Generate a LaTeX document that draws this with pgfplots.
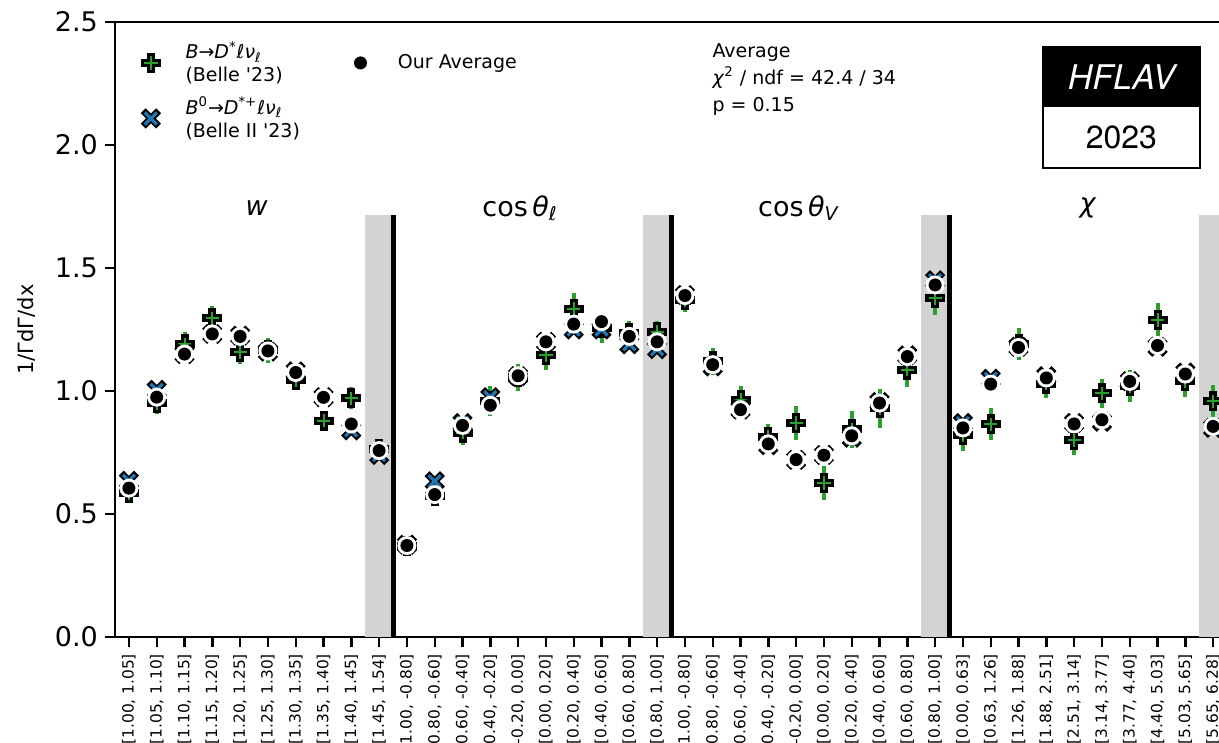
\documentclass[border=0pt]{standalone}
\usepackage{pgfplots}
\pgfplotsset{compat=1.18}
\usepackage{pgfplotstable}
\usepackage{fontspec}
\setmainfont{DejaVu Sans}[ItalicFont={DejaVu Sans Oblique},BoldFont={DejaVu Sans Bold},Ligatures=TeXOff]
\newfontfamily\heros{TeX Gyre Heros}
\definecolor{mplgreen}{HTML}{2CA02C}
\definecolor{mplblue}{HTML}{1F77B4}
\definecolor{bandgray}{HTML}{D3D3D3}

\pgfdeclareplotmark{pcross}{%
  \pgfsetlinewidth{4pt}\pgfsetrectcap\pgfsetstrokecolor{black}%
  \pgfpathmoveto{\pgfqpoint{-3pt}{0pt}}\pgfpathlineto{\pgfqpoint{3pt}{0pt}}%
  \pgfpathmoveto{\pgfqpoint{0pt}{-3pt}}\pgfpathlineto{\pgfqpoint{0pt}{3pt}}%
  \pgfusepathqstroke
  \pgfsetlinewidth{1pt}\pgfsetbuttcap\pgfsetstrokecolor{mplgreen}%
  \pgfpathmoveto{\pgfqpoint{-3.3pt}{0pt}}\pgfpathlineto{\pgfqpoint{3.3pt}{0pt}}%
  \pgfpathmoveto{\pgfqpoint{0pt}{-3.3pt}}\pgfpathlineto{\pgfqpoint{0pt}{3.3pt}}%
  \pgfusepathqstroke}
\pgfdeclareplotmark{xcross}{%
  \pgfsetlinewidth{3.5pt}\pgfsetrectcap\pgfsetstrokecolor{black}%
  \pgfpathmoveto{\pgfqpoint{-2.6pt}{-2.6pt}}\pgfpathlineto{\pgfqpoint{2.6pt}{2.6pt}}%
  \pgfpathmoveto{\pgfqpoint{-2.6pt}{2.6pt}}\pgfpathlineto{\pgfqpoint{2.6pt}{-2.6pt}}%
  \pgfusepathqstroke
  \pgfsetlinewidth{1.6pt}\pgfsetbuttcap\pgfsetstrokecolor{mplblue}%
  \pgfpathmoveto{\pgfqpoint{-3pt}{-3pt}}\pgfpathlineto{\pgfqpoint{3pt}{3pt}}%
  \pgfpathmoveto{\pgfqpoint{-3pt}{3pt}}\pgfpathlineto{\pgfqpoint{3pt}{-3pt}}%
  \pgfusepathqstroke}
\pgfdeclareplotmark{avgdot}{%
  \pgfpathcircle{\pgfpointorigin}{4.75pt}\pgfsetfillcolor{white}\pgfusepathqfill
  \pgfpathcircle{\pgfpointorigin}{3.25pt}\pgfsetfillcolor{black}\pgfusepathqfill}

\pgfplotstableread{
x belle be b2 avg ae
0 0.585 0.040 0.635 0.605 0.025
1 0.950 0.045 1.005 0.975 0.025
2 1.190 0.050 1.150 1.150 0.025
3 1.295 0.050 1.232 1.232 0.025
4 1.158 0.050 1.225 1.222 0.025
5 1.165 0.050 1.160 1.163 0.025
6 1.045 0.040 1.080 1.075 0.025
7 0.880 0.040 0.975 0.974 0.025
8 0.970 0.045 0.840 0.866 0.025
9 0.765 0.035 0.740 0.758 0.025
10 0.370 0.020 0.375 0.372 0.025
11 0.575 0.040 0.633 0.579 0.025
12 0.830 0.050 0.870 0.860 0.025
13 0.960 0.060 0.975 0.942 0.025
14 1.055 0.055 1.060 1.062 0.025
15 1.145 0.060 1.200 1.200 0.025
16 1.335 0.065 1.250 1.272 0.025
17 1.255 0.060 1.250 1.282 0.025
18 1.235 0.050 1.190 1.222 0.025
19 1.240 0.045 1.170 1.200 0.025
20 1.370 0.050 1.390 1.388 0.025
21 1.120 0.055 1.100 1.107 0.025
22 0.965 0.055 0.925 0.924 0.025
23 0.815 0.050 0.780 0.785 0.025
24 0.870 0.070 0.720 0.721 0.025
25 0.626 0.068 0.740 0.739 0.025
26 0.845 0.075 0.810 0.818 0.025
27 0.930 0.080 0.955 0.951 0.025
28 1.087 0.070 1.145 1.140 0.025
29 1.377 0.070 1.450 1.431 0.025
30 0.820 0.065 0.870 0.850 0.025
31 0.864 0.065 1.050 1.028 0.025
32 1.190 0.065 1.180 1.177 0.025
33 1.030 0.060 1.060 1.053 0.025
34 0.800 0.060 0.870 0.866 0.025
35 0.990 0.060 0.875 0.883 0.025
36 1.020 0.065 1.040 1.039 0.025
37 1.289 0.070 1.180 1.185 0.025
38 1.040 0.065 1.075 1.069 0.025
39 0.958 0.067 0.850 0.856 0.025
}\datatab

\begin{document}
\begin{tikzpicture}
\begin{axis}[
  scale only axis, width=556pt, height=307.5pt,
  at={(0,0)}, anchor=south west,
  xmin=-0.5, xmax=39.5, ymin=0, ymax=2.5,
  clip=false,
  axis line style={line width=1.3pt},
  every tick/.style={black, line width=1.2pt},
  major tick length=5pt,
  tick align=outside, xtick pos=left, ytick pos=left,
  xtick={0,...,39},
  xticklabels={{[1.00, 1.05]},{[1.05, 1.10]},{[1.10, 1.15]},{[1.15, 1.20]},{[1.20, 1.25]},{[1.25, 1.30]},{[1.30, 1.35]},{[1.35, 1.40]},{[1.40, 1.45]},{[1.45, 1.54]},
    {[-1.00, -0.80]},{[-0.80, -0.60]},{[-0.60, -0.40]},{[-0.40, -0.20]},{[-0.20, 0.00]},{[0.00, 0.20]},{[0.20, 0.40]},{[0.40, 0.60]},{[0.60, 0.80]},{[0.80, 1.00]},
    {[-1.00, -0.80]},{[-0.80, -0.60]},{[-0.60, -0.40]},{[-0.40, -0.20]},{[-0.20, 0.00]},{[0.00, 0.20]},{[0.20, 0.40]},{[0.40, 0.60]},{[0.60, 0.80]},{[0.80, 1.00]},
    {[0.00, 0.63]},{[0.63, 1.26]},{[1.26, 1.88]},{[1.88, 2.51]},{[2.51, 3.14]},{[3.14, 3.77]},{[3.77, 4.40]},{[4.40, 5.03]},{[5.03, 5.65]},{[5.65, 6.28]}},
  xticklabel style={rotate=90, anchor=east, font=\fontsize{7.7}{8}\selectfont},
  ytick={0,0.5,...,2.5},
  /pgf/number format/assume math mode=true,
  yticklabel={\pgfmathprintnumber[fixed,fixed zerofill,precision=1]{\tick}},
  yticklabel style={font=\fontsize{13.5}{15}\selectfont},
  legend columns=2,
  legend style={draw=none, fill=none, inner sep=0pt,
    at={(axis cs:0.54,2.44)}, anchor=north west,
    font=\fontsize{9.5}{11.5}\selectfont,
    cells={anchor=west, align=left},
    /tikz/every odd column/.append style={column sep=12pt},
    /tikz/every even column/.append style={column sep=23.5pt},
    row sep=2pt},
]
% bands and separators
\fill[bandgray] (axis cs:8.5,0) rectangle (axis cs:9.5,1.715);
\fill[bandgray] (axis cs:18.5,0) rectangle (axis cs:19.5,1.715);
\fill[bandgray] (axis cs:28.5,0) rectangle (axis cs:29.5,1.715);
\fill[bandgray] (axis cs:38.5,0) rectangle (axis cs:39.5,1.715);
\draw[line width=2.5pt] (axis cs:9.5,0) -- (axis cs:9.5,1.715);
\draw[line width=2.5pt] (axis cs:19.5,0) -- (axis cs:19.5,1.715);
\draw[line width=2.5pt] (axis cs:29.5,0) -- (axis cs:29.5,1.715);

% data
\addplot[forget plot, only marks, mark=pcross,
  error bars/.cd, y dir=both, y explicit, error mark=none,
  error bar style={line width=2pt, color=mplgreen}]
  table[x=x, y=belle, y error=be] {\datatab};
\addplot[forget plot, only marks, mark=xcross] table[x=x, y=b2] {\datatab};
\addplot[forget plot, only marks, mark=avgdot,
  error bars/.cd, y dir=both, y explicit, error mark=none,
  error bar style={line width=1.5pt, color=black}]
  table[x=x, y=avg, y error=ae] {\datatab};

% legend
\addlegendimage{only marks, mark=pcross}
\addlegendentry{\textit{B}→\textit{D}\textsuperscript{*}\textit{ℓν}\textsubscript{\textit{ℓ}}\\(Belle '23)}
\addlegendimage{only marks, mark=avgdot}
\addlegendentry{Our Average}
\addlegendimage{only marks, mark=xcross}
\addlegendentry{\textit{B}\textsuperscript{0}→\textit{D}\textsuperscript{*+}\textit{ℓν}\textsubscript{\textit{ℓ}}\\(Belle II '23)}

% group labels
\node[font=\fontsize{13.5}{15}\selectfont] at (axis cs:4.6,1.744) {\textit{w}};
\node[font=\fontsize{13.5}{15}\selectfont] at (axis cs:14.07,1.744) {cos\,\textit{θ}\textsubscript{\textit{ℓ}}};
\node[font=\fontsize{13.5}{15}\selectfont] at (axis cs:24.1,1.744) {cos\,\textit{θ}\textsubscript{\textit{V}}};
\node[font=\fontsize{13.5}{15}\selectfont] at (axis cs:34.5,1.744) {\textit{χ}};

% y label
\node[rotate=90, font=\fontsize{10.5}{12}\selectfont] at (axis cs:-3.7,1.25) {1/ΓdΓ/dx};

% fit info
\node[anchor=north west, align=left, inner sep=0pt, font=\fontsize{9.5}{13.5}\selectfont]
  at (axis cs:20.98,2.415) {Average\\\textit{χ}\textsuperscript{2} / ndf = 42.4 / 34\\p = 0.15};

% HFLAV box
\fill[black] (axis cs:32.88,2.154) rectangle (axis cs:38.53,2.398);
\draw[line width=1pt] (axis cs:32.88,1.907) rectangle (axis cs:38.53,2.398);
\node[text=white, font=\heros\itshape\fontsize{17}{19}\selectfont] at (axis cs:35.7,2.276) {HFLAV};
\node[font=\heros\fontsize{16}{18}\selectfont] at (axis cs:35.7,2.03) {2023};
\end{axis}
\pgfresetboundingbox
\useasboundingbox (-57.5pt,-53pt) rectangle (552pt,318.5pt);
\end{tikzpicture}
\end{document}
